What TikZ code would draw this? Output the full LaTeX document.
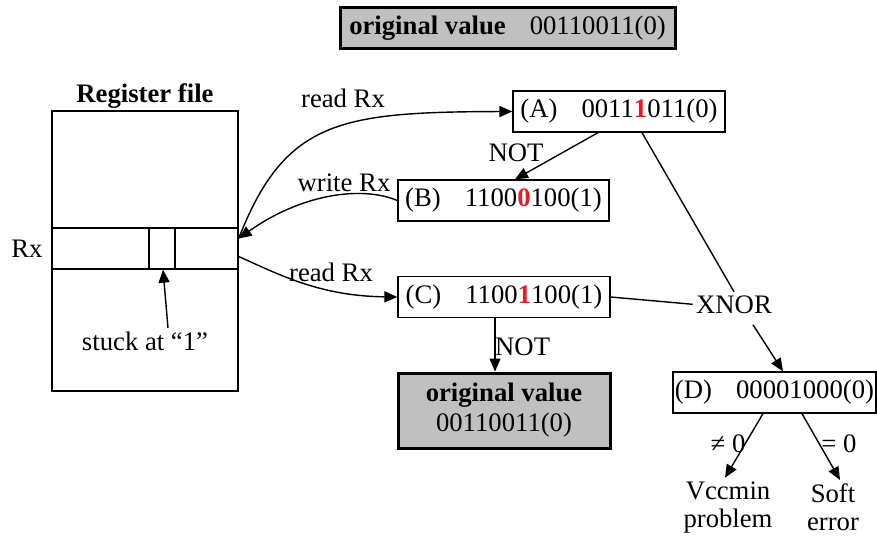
\documentclass[tikz,border=0pt]{standalone}
\usepackage{fontspec}
\setmainfont{Liberation Serif}
\usepackage{tikz}
\usetikzlibrary{arrows.meta}

\definecolor{boxgray}{RGB}{192,192,192}
\definecolor{bitred}{RGB}{230,30,36}
\newcommand{\rbit}[1]{\textcolor{bitred}{\textbf{#1}}}

\begin{document}
\begin{tikzpicture}[x=1pt,y=-1pt,
  every node/.style={font=\fontsize{26.7}{30}\selectfont},
  frame/.style={draw,line width=1.3pt,inner sep=0pt},
  valbox/.style={frame,minimum width=212pt,minimum height=41pt},
  origbox/.style={draw,fill=boxgray,line width=3pt,inner sep=0pt,align=center},
  lbl/.style={anchor=base},
  twoline/.style={align=center,font=\fontsize{26.7}{28}\selectfont},
  conn/.style={line width=1.4pt},
  arr/.style={conn,-{Triangle[length=13pt,width=11pt]}}]

  \useasboundingbox (0,0) rectangle (877,537);

  % original value on top
  \node[origbox,minimum width=335pt,minimum height=41pt] (orig) at (507.5,28)
    {\textbf{original value}\hspace{0.9em}00110011(0)};

  % register file
  \node[frame,minimum width=186pt,minimum height=280pt] (reg) at (145,251) {};
  \node[frame,minimum width=186pt,minimum height=41pt] (rx) at (145,248.5) {};
  \node[frame,minimum width=26pt,minimum height=41pt] (cell) at (162,248.5) {};
  \node[lbl] (regname) at (145,103) {\textbf{Register file}};
  \node[lbl] (rxname) at (27,258) {Rx};
  \node[lbl] (stuck) at (145,350) {stuck at “1”};
  \draw[arr] ([xshift=23pt]stuck.north) -- ([xshift=1pt]cell.south);

  % values
  \node[valbox] (A) at (619,111.5) {(A)\hspace{0.9em}0011\rbit{1}011(0)};
  \node[valbox,minimum width=211pt] (B) at (503.5,200.5) {(B)\hspace{0.9em}1100\rbit{0}100(1)};
  \node[valbox] (C) at (504,297) {(C)\hspace{0.9em}1100\rbit{1}100(1)};
  \node[origbox,minimum width=212pt,minimum height=75pt] (orig2) at (504,410.5)
    {\textbf{original value}\\00110011(0)};
  \node[valbox,minimum width=203pt] (D) at (774.5,392.5) {(D)\hspace{0.9em}00001000(0)};
  \node[lbl] (xnor) at (734,313) {XNOR};
  \node[twoline] (vcc) at (728,507) {Vccmin\\problem};
  \node[twoline] (soft) at (833,507) {Soft\\error};

  % read / write
  \draw[arr] ([yshift=10pt]rx.east) .. controls (285,120) and (340,112) .. (A.west);
  \draw[arr] (B.west) .. controls (360,185) and (300,195) .. ([yshift=10pt]rx.east);
  \draw[arr] ([yshift=-8pt]rx.east) .. controls (280,275) and (320,296) .. (C.west);
  \node[lbl] (rd1) at (343,108) {read Rx};
  \node[lbl] (wr) at (344,192) {write Rx};
  \node[lbl] (rd2) at (331,281) {read Rx};

  % NOT
  \draw[arr] ([xshift=-21pt]A.south) -- ([xshift=11.5pt]B.north);
  \node[lbl] (not1) at (516,162) {NOT};
  \draw[arr] ([xshift=-9pt]C.south) -- ([xshift=-9pt]orig2.north);
  \node[lbl,anchor=base west,inner sep=0pt] (not2) at (495,355) {NOT};

  % XNOR
  \draw[conn] ([xshift=23pt]A.south) -- (xnor.north);
  \draw[conn] (C.east) -- (xnor.west);
  \draw[arr] ([shift={(19pt,-8pt)}]xnor.south) -- ([xshift=8.5pt]D.north);

  % result
  \draw[arr] ([xshift=-11.5pt]D.south) -- ([xshift=-3pt]vcc.north);
  \draw[arr] ([xshift=27.5pt]D.south) -- ([xshift=7pt]soft.north);
  \node[lbl] (ne) at (728,452) {≠ 0};
  \node[lbl] (eq) at (839,452) {= 0};

\end{tikzpicture}
\end{document}
